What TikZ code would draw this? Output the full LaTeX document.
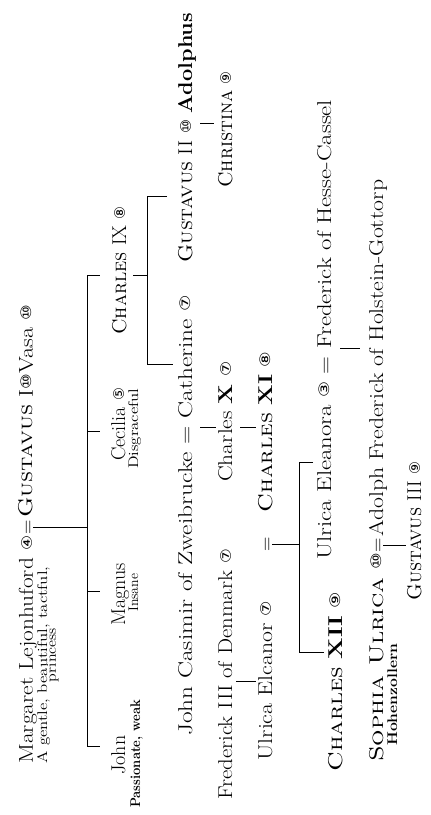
\documentclass[tikz,border=0pt]{standalone}
\usepackage{fontspec}
\usepackage{graphicx}
\newfontfamily\circfont{DejaVu Sans}
\newcommand\cn[1]{\raisebox{0.06em}{\circfont\scalebox{0.72}{#1}}}
\newcommand\fitw[2]{\resizebox{#1pt}{\height}{#2}}
\tikzset{
  nm/.style={rotate=90, inner sep=0pt, anchor=base west, font=\fontsize{20}{24}\selectfont},
  ds/.style={rotate=90, inner sep=0pt, anchor=base west, font=\fontsize{14}{16}\selectfont},
  ln/.style={line width=0.6pt, black},
}
\begin{document}
\begin{tikzpicture}[x=1pt, y=-1pt]
\useasboundingbox (0,0) rectangle (431,815);
% generation 1
\node[nm] (marg) at (33,764) {\fitw{228}{Margaret Lejonhuford \cn{④}}};
\node[nm, anchor=base] (eqA) at (33,527) {=};
\node[nm] (gus1) at (33,518) {\fitw{213}{\textsc{Gustavus} I\cn{⑩}Vasa \cn{⑩}}};
\node[ds] (desc1) at (47,764) {\fitw{197}{A gentle, beautiful, tactful,}};
\node[ds, anchor=base] (desc2) at (56,655) {\fitw{54}{princess}};
% generation 2
\node[nm] (john) at (125,775) {John};
\node[ds] (johnd) at (140,808) {\fitw{108}{\bfseries Passionate, weak}};
\node[nm] (magnus) at (125,626) {Magnus};
\node[ds] (magd) at (138,612) {\fitw{38}{Insane}};
\node[nm] (cecilia) at (125,461) {Cecilia \cn{⑤}};
\node[ds] (cecd) at (138,469) {\fitw{80}{Disgraceful}};
\node[nm] (ch9) at (126,335) {\textsc{Charles} IX \cn{⑧}};
% generation 3
\node[nm] (gus2) at (192,263) {\fitw{250}{\textsc{Gustavus} II \cn{⑩} \textbf{Adolphus}}};
\node[nm] (jc) at (192,736) {\fitw{441}{John Casimir of Zweibrucke = Catherine \cn{⑦}}};
% generation 4
\node[nm] (fred3) at (232,800) {\fitw{251}{Frederick III of Denmark \cn{⑦}}};
\node[nm] (ch10) at (232,482) {\fitw{120}{Charles \textbf{X} \cn{⑦}}};
\node[nm] (christina) at (232,188) {\textsc{Christina} \cn{⑨}};
% generation 5
\node[nm] (ulel) at (272,761) {\fitw{160}{Ulrica Elcanor \cn{⑦}}};
\node[nm, anchor=base] (eqB) at (272,544) {=};
\node[nm] (ch11) at (272,513) {\fitw{161}{\textsc{Charles} \textbf{XI} \cn{⑧}}};
% generation 6
\node[nm] (ch12) at (342,772) {\fitw{180}{\textsc{Charles} \textbf{XII} \cn{⑨}}};
\node[nm] (ulea) at (331,560) {\fitw{460}{Ulrica Eleanora \cn{③} = Frederick of Hesse-Cassel}};
% generation 7
\node[nm] (soph) at (383,762) {\fitw{209}{\textsc{Sophia Ulrica} \cn{⑩}}};
\node[nm, anchor=base] (eqS) at (383,545) {=};
\node[nm] (adolph) at (383,537) {\fitw{357}{Adolph Frederick of Holstein-Gottorp}};
\node[ds] (hohen) at (397,746) {\fitw{102}{\bfseries Hohenzollern}};
% generation 8
\node[nm] (gus3) at (421,601) {\textsc{Gustavus} III \cn{⑨}};
% connector coordinates
\coordinate (mt) at (87,275);
\coordinate (mb) at (87,746);
\coordinate (sj) at (100,746);
\coordinate (mm) at (87,591);
\coordinate (sm) at (100,591);
\coordinate (mc) at (87,431);
\coordinate (sc) at (100,431);
\coordinate (s9) at (100,275);
\coordinate (c9r) at (133,275);
\coordinate (b1m) at (147,275);
\coordinate (b1t) at (147,196);
\coordinate (b1b) at (147,364);
\coordinate (g2s) at (167,196);
\coordinate (cats) at (173,364);
\coordinate (g2r) at (200,123);
\coordinate (chs) at (214,123);
\coordinate (catr) at (200,427);
\coordinate (c10s) at (216,427);
\coordinate (c10r) at (240,427);
\coordinate (c11s) at (256,427);
\coordinate (f3r) at (236,681);
\coordinate (uls) at (256,681);
\coordinate (b2m) at (299,544);
\coordinate (b2t) at (299,462);
\coordinate (b2b) at (299,652);
\coordinate (ueas) at (313,462);
\coordinate (c12s) at (324,652);
\coordinate (hcr) at (340,348);
\coordinate (ads) at (360,348);
\coordinate (g3s) at (406,0);
% connectors
\draw[ln] (eqA.south) -- (eqA.south -| mt);
\draw[ln] (mt) -- (mb);
\draw[ln] (mt) -- (s9);
\draw[ln] (mc) -- (sc);
\draw[ln] (mm) -- (sm);
\draw[ln] (mb) -- (sj);
\draw[ln] (c9r) -- (b1m);
\draw[ln] (g2s) -- (b1t) -- (b1b) -- (cats);
\draw[ln] (g2r) -- (chs);
\draw[ln] (catr) -- (c10s);
\draw[ln] (c10r) -- (c11s);
\draw[ln] (f3r) -- (uls);
\draw[ln] (eqB.south) -- (b2m);
\draw[ln] (ueas) -- (b2t) -- (b2b) -- (c12s);
\draw[ln] (hcr) -- (ads);
\draw[ln] (eqS.south) -- (eqS.south -| g3s);
\end{tikzpicture}
\end{document}
